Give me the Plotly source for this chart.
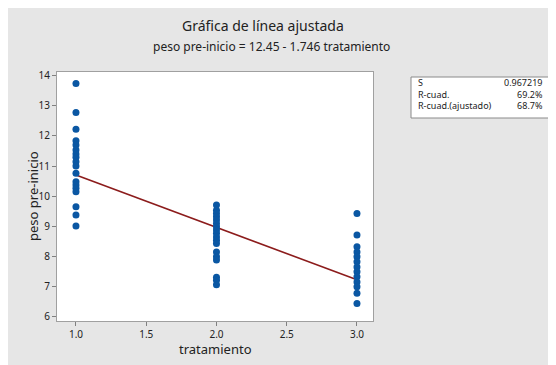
import plotly.graph_objects as go

# ---- data ----
trat_1 = [13.75, 12.78, 12.22, 11.84, 11.70, 11.53, 11.40, 11.29, 11.14, 11.00,
          10.76, 10.48, 10.37, 10.26, 10.14, 9.64, 9.37, 9.00]
trat_2 = [9.70, 9.53, 9.42, 9.31, 9.20, 9.09, 8.98, 8.87, 8.76, 8.64, 8.53, 8.42,
          8.14, 7.98, 7.87, 7.30, 7.20, 7.05]
trat_3 = [9.42, 8.70, 8.31, 8.14, 7.98, 7.81, 7.64, 7.48, 7.31, 7.14, 6.98, 6.76, 6.42]
intercept = 12.45
slope = -1.746
x_ticks = [1.0, 1.5, 2.0, 2.5, 3.0]
y_ticks = [6, 7, 8, 9, 10, 11, 12, 13, 14]
stat_names = ["S", "R-cuad.", "R-cuad.(ajustado)"]
stat_values = ["0.967219", "69.2%", "68.7%"]

xs = [1] * len(trat_1) + [2] * len(trat_2) + [3] * len(trat_3)
ys = trat_1 + trat_2 + trat_3
line_x = [1, 3]
line_y = [intercept + slope * v for v in line_x]

FONT = "Noto Sans"
OFF = 8  # page body margin
W, H = 556, 365
L, R, T, B = 49, 191, 64, 52
pw, ph = W - L - R, H - T - B

def px(x):  # page pixel x -> paper
    return (x - OFF - L) / pw

def py(y):  # page pixel y -> paper
    return (H - B - (y - OFF)) / ph

fig = go.Figure()
fig.add_trace(go.Scatter(x=line_x, y=line_y, mode="lines",
                         line=dict(color="#8c1c1c", width=1.6), hoverinfo="skip"))
fig.add_trace(go.Scatter(x=xs, y=ys, mode="markers",
                         marker=dict(color="#0a57a3", size=7)))

shapes = [
    dict(type="rect", xref="paper", yref="paper", x0=px(411), x1=px(549),
         y0=py(118), y1=py(77), fillcolor="white", line=dict(color="#8a8a8a", width=1)),
]

TXT = "#222222"
annotations = [
    dict(text="Gráfica de línea ajustada", x=px(263), y=py(26), xref="paper", yref="paper",
         xanchor="center", yanchor="middle", showarrow=False,
         font=dict(family=FONT, size=14, color=TXT)),
    dict(text="peso pre-inicio = 12.45 - 1.746 tratamiento", x=px(271), y=py(46),
         xref="paper", yref="paper", xanchor="center", yanchor="middle", showarrow=False,
         font=dict(family=FONT, size=12, color=TXT)),
    dict(text="tratamiento", x=px(215), y=py(349), xref="paper", yref="paper",
         xanchor="center", yanchor="middle", showarrow=False,
         font=dict(family=FONT, size=13, color=TXT)),
    dict(text="peso pre-inicio", x=px(33), y=py(196), xref="paper", yref="paper",
         xanchor="center", yanchor="middle", showarrow=False, textangle=-90,
         font=dict(family=FONT, size=13, color=TXT)),
    dict(text="<br>".join(stat_names), x=px(416), y=py(94), xref="paper", yref="paper",
         xanchor="left", yanchor="middle", align="left", showarrow=False,
         font=dict(family=FONT, size=9, color=TXT)),
    dict(text="<br>".join(stat_values), x=px(545), y=py(94), xref="paper", yref="paper",
         xanchor="right", yanchor="middle", align="right", showarrow=False,
         font=dict(family=FONT, size=9, color=TXT)),
]

fig.update_layout(
    width=W, height=H,
    margin=dict(l=L, r=R, t=T, b=B, pad=0),
    paper_bgcolor="#e6e6e6", plot_bgcolor="white",
    showlegend=False,
    shapes=shapes, annotations=annotations,
    font=dict(family=FONT, color=TXT),
)
fig.update_xaxes(range=[0.865, 3.114], tickvals=x_ticks,
                 ticktext=[f"{v:.1f}" for v in x_ticks],
                 showgrid=False, zeroline=False, showline=True, mirror=True,
                 linecolor="#a0a0a0", linewidth=1, ticks="outside", ticklen=4,
                 tickcolor="#808080", tickfont=dict(size=10, family=FONT, color=TXT))
fig.update_yaxes(range=[5.84, 14.13], tickvals=y_ticks,
                 showgrid=False, zeroline=False, showline=True, mirror=True,
                 linecolor="#a0a0a0", linewidth=1, ticks="outside", ticklen=4,
                 tickcolor="#808080", tickfont=dict(size=10, family=FONT, color=TXT))

fig.write_html("out.html")
